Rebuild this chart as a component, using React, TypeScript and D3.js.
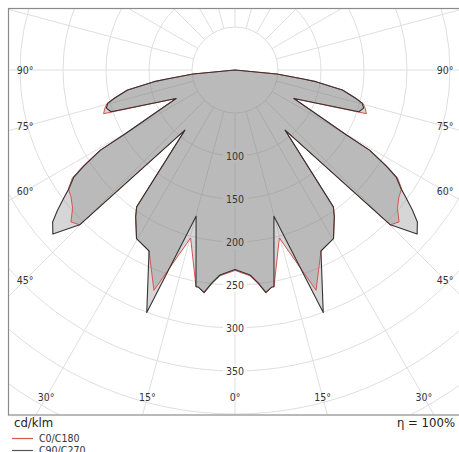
import { useRef, useEffect } from "react";
import * as d3 from "d3";

// polar luminous intensity values, cd/klm, gamma in degrees from nadir
const gammaC0 = [0, 4.2, 6.2, 7.9, 9.6, 10.2, 14.8, 20.2, 25.4, 30.3, 34.1, 35.7, 39.8, 45.1, 47.2, 49.6, 52.3, 54.5, 56.4, 57.6, 59.2, 59.8, 61.1, 64.2, 71.6, 73.5, 75.3, 76.8, 79.4, 81.8, 82.5, 84.5, 90];
const intensityC0 = [233, 240, 250, 262, 256, 256, 202, 273, 233, 227, 206, 196, 91, 255, 260, 248, 241, 238, 227, 210, 184, 150, 118, 76, 161, 158, 154, 145, 128, 95, 80, 49, 0];

const gammaC90 = [0, 4.2, 6.2, 7.9, 9.6, 10.2, 14.9, 20.0, 25.4, 30.3, 34.1, 35.7, 39.8, 45.1, 48.0, 50.2, 51.7, 53.4, 54.5, 56.4, 57.6, 59.2, 59.8, 61.1, 64.2, 71.4, 73.5, 75.3, 76.8, 79.4, 81.8, 82.5, 84.5, 90];
const intensityC90 = [232, 239, 249, 261, 256, 256, 176, 300, 233, 227, 206, 196, 91, 255, 285, 276, 263, 247, 237, 225, 208, 182, 148, 116, 76, 152, 156, 153, 144, 127, 95, 80, 49, 0];

const ringLabels = [100, 150, 200, 250, 300, 350];
const gridRings = d3.range(50, 701, 50);
const rayAngles = d3.range(0, 360, 15);
const angleLabels = [0, 15, 30, 45, 60, 75, 90];
const legendItems = ["C0/C180", "C90/C270"];
const legendColors = ["#d9534f", "#555555"];

const FONT = "'DejaVu Sans Condensed', 'DejaVu Sans', sans-serif";

export default function App() {
  const svgRef = useRef<SVGSVGElement>(null);

  useEffect(() => {
    if (!svgRef.current) return;
    const svg = d3.select(svgRef.current);
    svg.selectAll("*").remove();

    const cx = 235;
    const cy = 70;
    const frame = { x: 8, y: 8, w: 454, h: 406.5 };

    const r = d3.scaleLinear().domain([0, 350]).range([0, 301]);
    const right = d3.scaleLinear().domain([0, 180]).range([Math.PI, 0]);
    const left = d3.scaleLinear().domain([0, 180]).range([Math.PI, 2 * Math.PI]);

    svg
      .append("rect")
      .attr("width", 459)
      .attr("height", 452)
      .attr("fill", "#fff");

    svg
      .append("clipPath")
      .attr("id", "frame-clip")
      .append("rect")
      .attr("x", frame.x)
      .attr("y", frame.y)
      .attr("width", frame.w)
      .attr("height", frame.h);

    const g = svg
      .append("g")
      .attr("clip-path", "url(#frame-clip)");
    const plot = g.append("g").attr("transform", `translate(${cx},${cy})`);

    // grid rings
    plot
      .selectAll("circle.ring")
      .data(gridRings)
      .join("circle")
      .attr("r", (d) => r(d))
      .attr("fill", "none")
      .attr("stroke", "#dedede")
      .attr("stroke-width", 1);

    // rays, every 15 deg starting at the 50 ring
    plot
      .selectAll("line.ray")
      .data(rayAngles)
      .join("line")
      .attr("x1", (d) => r(50) * Math.sin((d * Math.PI) / 180))
      .attr("y1", (d) => r(50) * Math.cos((d * Math.PI) / 180))
      .attr("x2", (d) => r(900) * Math.sin((d * Math.PI) / 180))
      .attr("y2", (d) => r(900) * Math.cos((d * Math.PI) / 180))
      .attr("stroke", "#dedede")
      .attr("stroke-width", 1);

    // white boxes behind ring labels
    plot
      .selectAll("rect.lbl")
      .data(ringLabels)
      .join("rect")
      .attr("x", -12)
      .attr("y", (d) => r(d) - 7)
      .attr("width", 24)
      .attr("height", 14)
      .attr("fill", "#fff");

    const toPoints = (gam: number[], val: number[]) => {
      const pts = gam.map((gm, i) => ({ a: right(gm), v: val[i] }));
      const lp = gam.map((gm, i) => ({ a: left(gm), v: val[i] })).reverse();
      return [...lp, ...pts];
    };

    const line = d3
      .lineRadial<{ a: number; v: number }>()
      .angle((d) => d.a)
      .radius((d) => r(d.v))
      .curve(d3.curveLinearClosed);

    const c0 = toPoints(gammaC0, intensityC0);
    const c90 = toPoints(gammaC90, intensityC90);

    [c90, c0].forEach((pts) => {
      plot
        .append("path")
        .attr("d", line(pts)!)
        .attr("fill", "#808080")
        .attr("fill-opacity", 0.32)
        .attr("stroke", "none");
    });

    plot
      .append("path")
      .attr("d", line(c0)!)
      .attr("fill", "none")
      .attr("stroke", legendColors[0])
      .attr("stroke-width", 1)
      .attr("stroke-linejoin", "round");

    plot
      .append("path")
      .attr("d", line(c90)!)
      .attr("fill", "none")
      .attr("stroke", "#333")
      .attr("stroke-width", 1.1)
      .attr("stroke-linejoin", "round");

    // ring labels
    plot
      .selectAll("text.ring")
      .data(ringLabels)
      .join("text")
      .attr("x", 0)
      .attr("y", (d) => r(d))
      .attr("dy", "0.36em")
      .attr("text-anchor", "middle")
      .attr("font-family", FONT)
      .attr("font-size", 10.5)
      .attr("fill", "#333")
      .text((d) => d);

    // angle labels on an inset rectangle
    const sideX = 210;
    const bottomY = 327;
    angleLabels.forEach((a) => {
      const rad = (a * Math.PI) / 180;
      const dSide = Math.sin(rad) > 0 ? sideX / Math.sin(rad) : Infinity;
      const dBottom = Math.cos(rad) > 1e-6 ? bottomY / Math.cos(rad) : Infinity;
      const d = Math.min(dSide, dBottom);
      const sides = a === 0 ? [1] : [-1, 1];
      sides.forEach((s) => {
        plot
          .append("text")
          .attr("x", s * d * Math.sin(rad))
          .attr("y", d * Math.cos(rad))
          .attr("dy", "0.36em")
          .attr("text-anchor", "middle")
          .attr("font-family", FONT)
          .attr("font-size", 10.5)
          .attr("fill", "#333")
          .text(`${a}°`);
      });
    });

    // frame
    svg
      .append("rect")
      .attr("x", frame.x + 0.5)
      .attr("y", frame.y + 0.5)
      .attr("width", frame.w)
      .attr("height", frame.h)
      .attr("fill", "none")
      .attr("stroke", "#8a8a8a")
      .attr("stroke-width", 1.2);

    svg
      .append("text")
      .attr("x", 14)
      .attr("y", 427)
      .attr("font-family", FONT)
      .attr("font-size", 13)
      .attr("fill", "#222")
      .text("cd/klm");

    svg
      .append("text")
      .attr("x", 455)
      .attr("y", 427)
      .attr("text-anchor", "end")
      .attr("font-family", FONT)
      .attr("font-size", 13)
      .attr("fill", "#222")
      .text("η = 100%");

    legendItems.forEach((name, i) => {
      const y = 438.5 + i * 12;
      svg
        .append("line")
        .attr("x1", 12)
        .attr("x2", 33)
        .attr("y1", y)
        .attr("y2", y)
        .attr("stroke", legendColors[i])
        .attr("stroke-width", 1.2);
      svg
        .append("text")
        .attr("x", 39)
        .attr("y", y + 3.5)
        .attr("font-family", FONT)
        .attr("font-size", 10.5)
        .attr("fill", "#333")
        .text(name);
    });
  }, []);

  return (
    <svg
      ref={svgRef}
      width={459}
      height={452}
      style={{ position: "absolute", left: 0, top: 0 }}
    />
  );
}
